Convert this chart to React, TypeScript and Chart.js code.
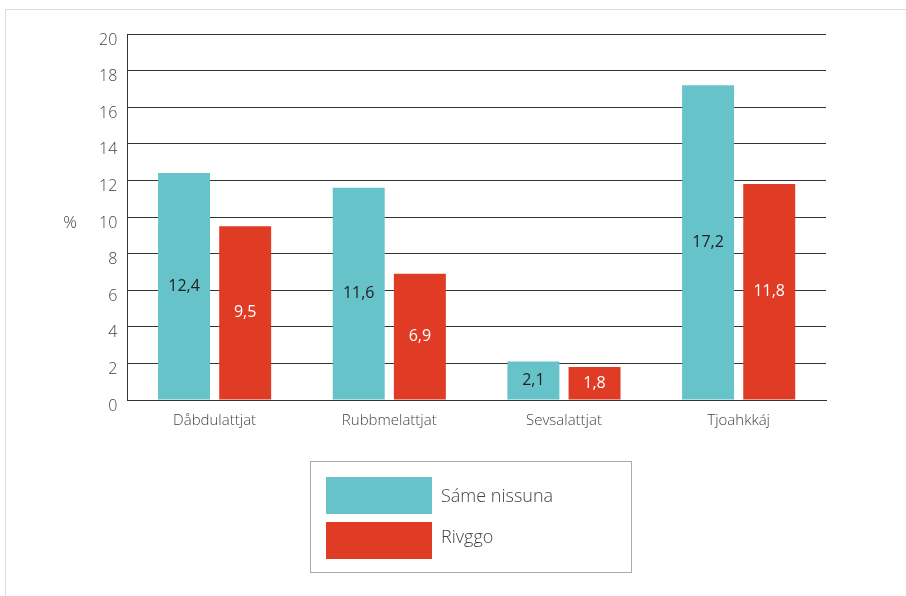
import React, { useEffect, useRef } from "react";
import { Chart, registerables } from "chart.js";

Chart.register(...registerables);

const categories = ["Dåbdulattjat", "Rubbmelattjat", "Sevsalattjat", "Tjoahkkáj"];
const seriesNames = ["Sáme nissuna", "Rivggo"];
const sameValues = [12.4, 11.6, 2.1, 17.2];
const rivggoValues = [9.5, 6.9, 1.8, 11.8];
const yTicks = [0, 2, 4, 6, 8, 10, 12, 14, 16, 18, 20];
const yUnit = "%";

const TEAL = "#66C3C9";
const RED = "#E03C25";
const FONT = "'Open Sans', sans-serif";

const barLabels = {
  id: "barLabels",
  afterDatasetsDraw(chart: any) {
    const ctx = chart.ctx;
    ctx.save();
    ctx.font = `16px ${FONT}`;
    ctx.textAlign = "center";
    ctx.textBaseline = "middle";
    chart.data.datasets.forEach((ds: any, di: number) => {
      const meta = chart.getDatasetMeta(di);
      meta.data.forEach((bar: any, i: number) => {
        const v = ds.data[i];
        const y = (bar.y + bar.base) / 2;
        ctx.fillStyle = di === 0 ? "#222" : "#fff";
        ctx.fillText(String(v).replace(".", ","), bar.x, y);
      });
    });
    ctx.restore();
  },
};

const unitTitle = {
  id: "unitTitle",
  afterDraw(chart: any) {
    const ctx = chart.ctx;
    const y = chart.scales.y;
    ctx.save();
    ctx.font = `300 17px ${FONT}`;
    ctx.fillStyle = "#444";
    ctx.textAlign = "center";
    ctx.textBaseline = "middle";
    ctx.fillText(yUnit, 70, y.getPixelForValue(10) + 6);
    ctx.restore();
  },
};

const boxLegend = {
  id: "boxLegend",
  afterDraw(chart: any) {
    const ctx = chart.ctx;
    ctx.save();
    const bx = 310.5, by = 461.5, bw = 321, bh = 111;
    ctx.strokeStyle = "#aaa";
    ctx.lineWidth = 1;
    ctx.strokeRect(bx, by, bw, bh);
    ctx.font = `300 18px ${FONT}`;
    ctx.textBaseline = "middle";
    ctx.textAlign = "left";
    chart.data.datasets.forEach((ds: any, i: number) => {
      const sy = 477 + i * 45;
      ctx.fillStyle = ds.backgroundColor;
      ctx.fillRect(326, sy, 106, 37);
      ctx.fillStyle = "#444";
      ctx.fillText(ds.label, 441, 497 + i * 41);
    });
    ctx.restore();
  },
};

export default function App() {
  const ref = useRef<HTMLCanvasElement>(null);
  useEffect(() => {
    if (!ref.current) return;
    const chart = new Chart(ref.current, {
      type: "bar",
      data: {
        labels: categories,
        datasets: [
          { label: seriesNames[0], data: sameValues, backgroundColor: TEAL },
          { label: seriesNames[1], data: rivggoValues, backgroundColor: RED },
        ],
      },
      options: {
        animation: false,
        responsive: false,
        devicePixelRatio: 1,
        layout: { padding: { left: 89, right: 80, top: 34, bottom: 154 } },
        categoryPercentage: 0.7,
        barPercentage: 0.85,
        plugins: { legend: { display: false }, tooltip: { enabled: false } },
        scales: {
          x: {
            grid: { display: false, drawTicks: false },
            border: { display: true, color: "#333", width: 1 },
            ticks: { color: "#444", font: { family: FONT, size: 15, weight: "300" }, padding: 12 },
          },
          y: {
            min: 0,
            max: 20,
            afterBuildTicks(scale: any) {
              scale.ticks = yTicks.map((v) => ({ value: v }));
            },
            grid: { color: "#333", lineWidth: 1, drawTicks: false },
            border: { display: true, color: "#333", width: 1 },
            ticks: { color: "#444", font: { family: FONT, size: 16, weight: "300" }, padding: 10, labelOffset: 6 },
          },
        },
      },
      plugins: [barLabels, unitTitle, boxLegend],
    } as any);
    return () => chart.destroy();
  }, []);
  return (
    <div>
      <div
        style={{
          position: "absolute",
          left: 5,
          top: 9,
          width: 920,
          height: 620,
          borderLeft: "1px solid #ddd",
          borderTop: "1px solid #ddd",
        }}
      />
      <canvas
        ref={ref}
        width={906}
        height={596}
        style={{ position: "absolute", left: 0, top: 0, width: 906, height: 596 }}
      />
    </div>
  );
}
